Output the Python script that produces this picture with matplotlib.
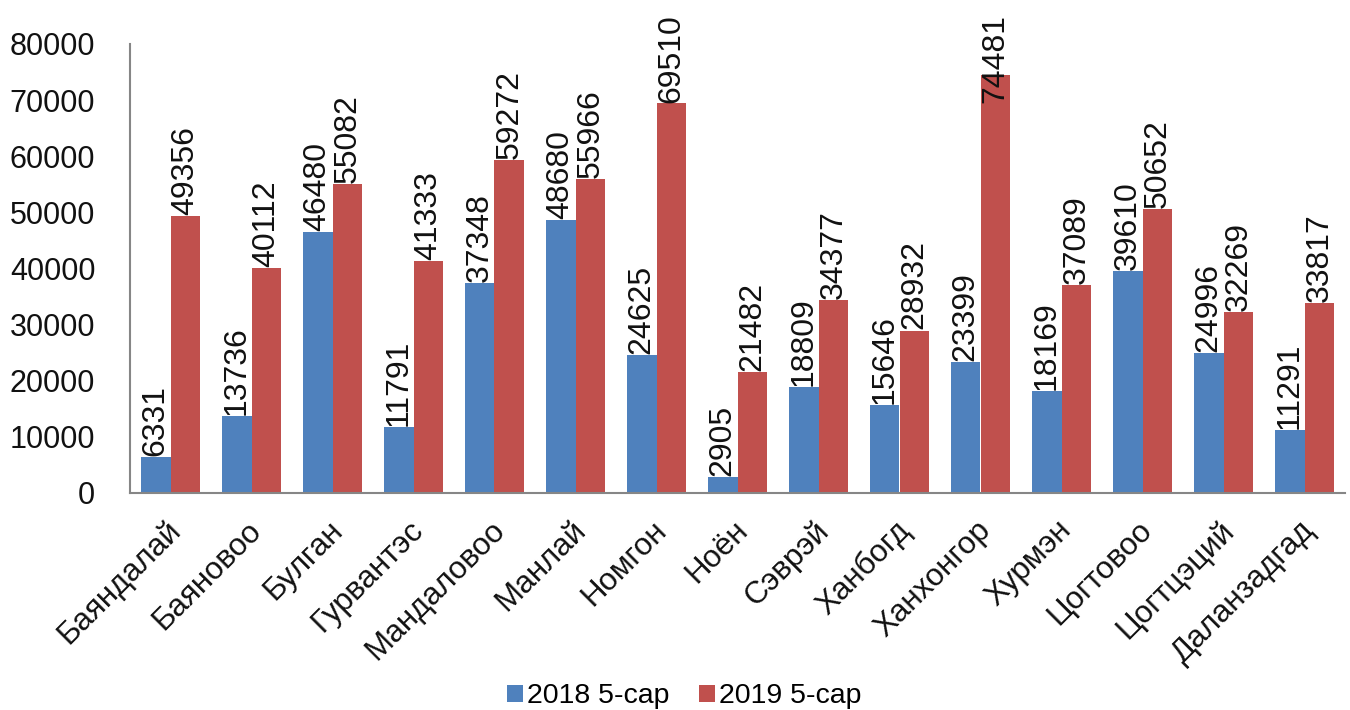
import matplotlib
matplotlib.use("Agg")
import matplotlib.pyplot as plt
import numpy as np
from matplotlib.transforms import ScaledTranslation

categories = ["Баяндалай", "Баяновоо", "Булган", "Гурвантэс", "Мандаловоо", "Манлай",
              "Номгон", "Ноён", "Сэврэй", "Ханбогд", "Ханхонгор", "Хурмэн",
              "Цогтовоо", "Цогтцэций", "Даланзадгад"]
values_2018 = [6331, 13736, 46480, 11791, 37348, 48680, 24625, 2905, 18809, 15646,
               23399, 18169, 39610, 24996, 11291]
values_2019 = [49356, 40112, 55082, 41333, 59272, 55966, 69510, 21482, 34377, 28932,
               74481, 37089, 50652, 32269, 33817]
series_names = ["2018 5-сар", "2019 5-сар"]
yticks = [0, 10000, 20000, 30000, 40000, 50000, 60000, 70000, 80000]

plt.rcParams['font.family'] = ['Liberation Sans', 'DejaVu Sans']
fig = plt.figure(figsize=(13.5, 7.1), dpi=100)
ax = fig.add_axes([130/1350, 1-493/710, 1215/1350, 449/710])

x = np.arange(len(categories))
w = 0.37
c1, c2 = "#4F81BD", "#C0504D"
b1 = ax.bar(x - w/2, values_2018, w, color=c1, label=series_names[0])
b2 = ax.bar(x + w/2, values_2019, w, color=c2, label=series_names[1])

label_cap = 69300
for xs, vals in ((x - w/2, values_2018), (x + w/2, values_2019)):
    for xi, v in zip(xs, vals):
        ax.text(xi, min(v, label_cap) + 200, f"{v}", rotation=90, ha='center', va='bottom',
                fontsize=23, color='#111111', clip_on=False)

ax.set_xlim(-0.5, len(categories) - 0.5)
ax.set_ylim(0, 80000)
ax.set_yticks(yticks)
ax.set_yticklabels([str(t) for t in yticks], fontsize=22, color='#111111')
ax.tick_params(axis='y', length=0, pad=25)
ax.set_xticks(x)
ax.set_xticklabels(categories, rotation=45, ha='right', rotation_mode='anchor',
                   fontsize=22.5, color='#111111')
ax.tick_params(axis='x', length=0, pad=16)
offset = ScaledTranslation(-5/100, 0, fig.dpi_scale_trans)
for lbl in ax.get_xticklabels():
    lbl.set_transform(lbl.get_transform() + offset)

for s in ('top', 'right'):
    ax.spines[s].set_visible(False)
for s in ('left', 'bottom'):
    ax.spines[s].set_color('#868686')
    ax.spines[s].set_linewidth(1.5)

fig.legend(handles=[b1, b2], labels=series_names, loc='lower center', bbox_to_anchor=(0.507, -0.035),
           ncol=2, frameon=False, fontsize=20.5, handlelength=0.55, handleheight=0.55,
           handletextpad=0.15, columnspacing=1.05)

fig.savefig("out.png", dpi=100)
